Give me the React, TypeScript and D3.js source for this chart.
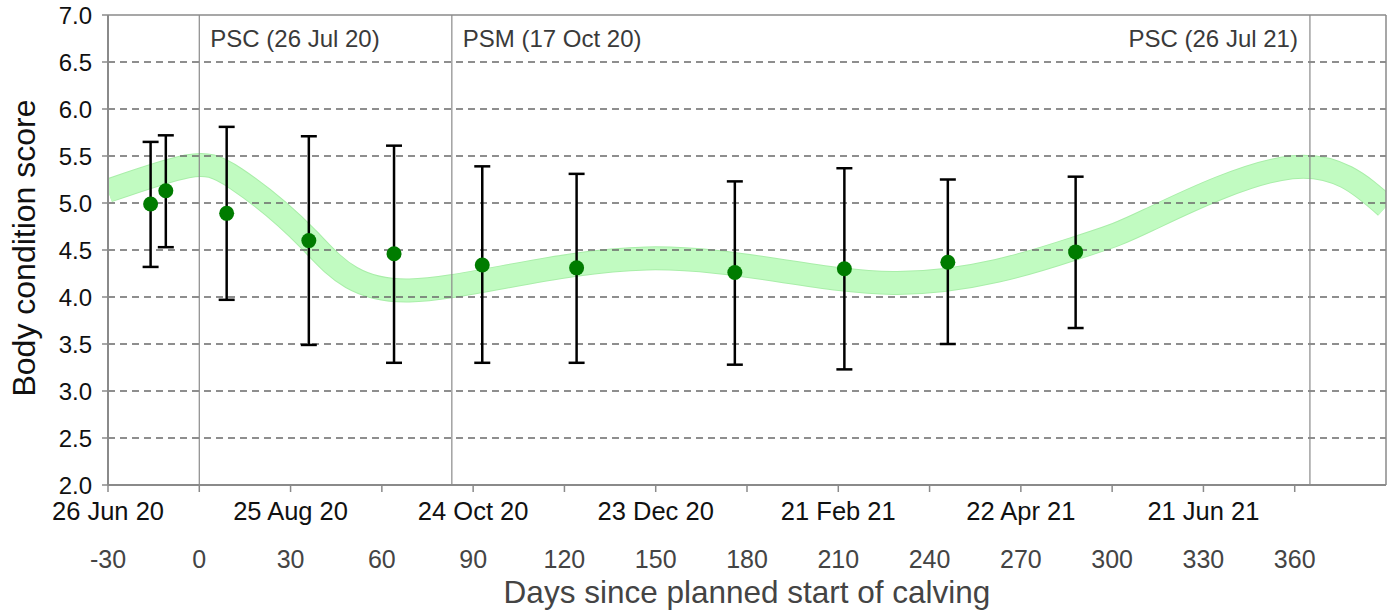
import React from 'react';
import * as d3 from 'd3';

// observed herd BCS (mean and range) by days since planned start of calving
const obsDays = [-16, -11, 9, 36, 64, 93, 124, 176, 212, 246, 288];
const obsMean = [4.99, 5.13, 4.89, 4.6, 4.46, 4.34, 4.31, 4.26, 4.3, 4.37, 4.48];
const obsHigh = [5.65, 5.72, 5.81, 5.71, 5.61, 5.39, 5.31, 5.23, 5.37, 5.25, 5.28];
const obsLow = [4.32, 4.53, 3.97, 3.49, 3.3, 3.3, 3.3, 3.28, 3.23, 3.5, 3.67];

// target BCS band (centre line)
const targetDays = [-30, -4, 12, 36, 69, 147, 228, 288, 312, 359, 390];
const targetBcs = [5.13, 5.39, 5.26, 4.61, 4.07, 4.41, 4.15, 4.52, 4.82, 5.38, 4.96];

const yTicks = [2.0, 2.5, 3.0, 3.5, 4.0, 4.5, 5.0, 5.5, 6.0, 6.5, 7.0];
const dayTicks = [-30, 0, 30, 60, 90, 120, 150, 180, 210, 240, 270, 300, 330, 360];
const dateTickDays = [-30, 30, 90, 150, 210, 270, 330];
const dateTickLabels = ['26 Jun 20', '25 Aug 20', '24 Oct 20', '23 Dec 20', '21 Feb 21', '22 Apr 21', '21 Jun 21'];

const eventDays = [0, 83, 365];
const eventLabels = ['PSC (26 Jul 20)', 'PSM (17 Oct 20)', 'PSC (26 Jul 21)'];

const FONT = '"Liberation Sans", Arial, sans-serif';

export default function App() {
  const width = 1395;
  const height = 614;
  const left = 108;
  const right = 1386;
  const top = 15;
  const bottom = 485;

  const x = d3.scaleLinear().domain([-30, 390]).range([left, right]);
  const y = d3.scaleLinear().domain([2, 7]).range([bottom, top]);

  const band = d3
    .line<number>()
    .x((d) => x(targetDays[d]))
    .y((d) => y(targetBcs[d]))
    .curve(d3.curveNatural);
  const bandPath = band(d3.range(targetDays.length)) as string;

  const grey = '#8a8a8a';

  return (
    <svg
      width={width}
      height={height}
      style={{ position: 'absolute', left: 0, top: 0, background: '#fff' }}
      fontFamily={FONT}
    >
      <defs>
        <clipPath id="plot">
          <rect x={left} y={top} width={right - left} height={bottom - top} />
        </clipPath>
      </defs>

      {/* target band */}
      <g clipPath="url(#plot)">
        <path d={bandPath} fill="none" stroke="#a9eea9" strokeWidth={24} />
        <path d={bandPath} fill="none" stroke="#c1fbc1" strokeWidth={22} />
      </g>

      {/* grid */}
      {yTicks.slice(1, -1).map((t) => (
        <line key={t} x1={left} x2={right} y1={y(t)} y2={y(t)} stroke="#6a6a6a" strokeWidth={1.3} strokeDasharray="7,5" />
      ))}

      {/* event lines */}
      {eventDays.map((d) => (
        <line key={d} x1={x(d)} x2={x(d)} y1={top} y2={bottom} stroke={grey} strokeWidth={1.2} />
      ))}
      <text x={x(eventDays[0]) + 11} y={47} fontSize={24} fill="#3a3a3a">{eventLabels[0]}</text>
      <text x={x(eventDays[1]) + 11} y={47} fontSize={24} fill="#3a3a3a">{eventLabels[1]}</text>
      <text x={x(eventDays[2]) - 12} y={47} fontSize={24} fill="#3a3a3a" textAnchor="end">{eventLabels[2]}</text>

      {/* frame */}
      <line x1={left} x2={right} y1={top} y2={top} stroke={grey} strokeWidth={1.5} />
      <line x1={right} x2={right} y1={top} y2={bottom} stroke={grey} strokeWidth={1.5} />
      <line x1={left} x2={left} y1={top} y2={bottom} stroke={grey} strokeWidth={2} />
      <line x1={left} x2={right} y1={bottom} y2={bottom} stroke={grey} strokeWidth={2} />

      {/* y axis */}
      {yTicks.map((t) => (
        <g key={t}>
          <line x1={left - 6} x2={left} y1={y(t)} y2={y(t)} stroke={grey} strokeWidth={1.5} />
          <text x={92} y={y(t) + 8.5} fontSize={24} textAnchor="end" fill="#111">
            {t.toFixed(1)}
          </text>
        </g>
      ))}
      <text
        transform={`translate(35, 248) rotate(-90)`}
        fontSize={32}
        textAnchor="middle"
        fill="#111"
      >
        Body condition score
      </text>

      {/* x axis */}
      {dayTicks.map((d) => (
        <g key={d}>
          <line x1={x(d)} x2={x(d)} y1={bottom} y2={bottom + 7} stroke={grey} strokeWidth={1.5} />
          <text x={x(d)} y={568} fontSize={25} textAnchor="middle" fill="#444">
            {d}
          </text>
        </g>
      ))}
      {dateTickDays.map((d, i) => (
        <text key={d} x={x(d)} y={520} fontSize={25.5} textAnchor="middle" fill="#111">
          {dateTickLabels[i]}
        </text>
      ))}
      <text x={(left + right) / 2} y={603} fontSize={31.5} textAnchor="middle" fill="#444">
        Days since planned start of calving
      </text>

      {/* observations */}
      {obsDays.map((d, i) => {
        const cx = x(d);
        return (
          <g key={d}>
            <line x1={cx} x2={cx} y1={y(obsHigh[i])} y2={y(obsLow[i])} stroke="#000" strokeWidth={2.5} />
            <line x1={cx - 8} x2={cx + 8} y1={y(obsHigh[i])} y2={y(obsHigh[i])} stroke="#000" strokeWidth={2.5} />
            <line x1={cx - 8} x2={cx + 8} y1={y(obsLow[i])} y2={y(obsLow[i])} stroke="#000" strokeWidth={2.5} />
            <circle cx={cx} cy={y(obsMean[i])} r={7.5} fill="#007c00" />
          </g>
        );
      })}
    </svg>
  );
}
